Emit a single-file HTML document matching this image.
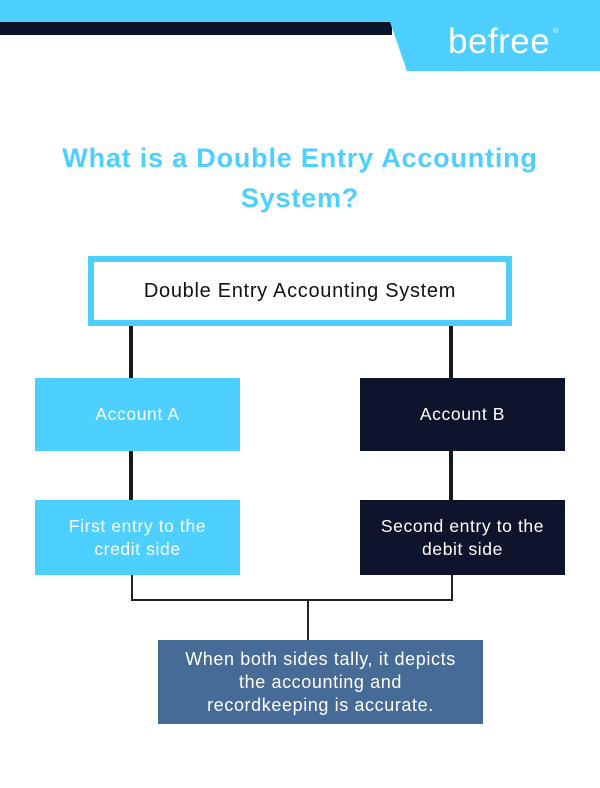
<!DOCTYPE html>
<html><head><meta charset="utf-8"><style>
body{margin:0;width:600px;height:788px;background:#fff;position:relative;overflow:hidden;font-family:"Liberation Sans",sans-serif}
.a{position:absolute}
.box{position:absolute;display:flex;align-items:center;justify-content:center;text-align:center;color:#fff;font-size:17.5px;line-height:23px;letter-spacing:0.6px}
</style></head><body>
<div class="a" style="left:0;top:0;width:600px;height:23px;background:#4dcfff"></div>
<div class="a" style="left:0;top:22px;width:392px;height:13px;background:#0b1329"></div>
<svg class="a" style="left:0;top:0" width="600" height="80"><polygon points="390,22 600,22 600,71 407,71" fill="#4dcfff"/></svg>
<div class="a" style="left:448px;top:22px;color:#fff;font-size:35px;letter-spacing:0.5px">befree</div>
<div class="a" style="left:553px;top:28px;color:#fff;font-size:7px">®</div>
<div class="a" style="left:0;top:138px;width:600px;text-align:center;color:#4dcfff;font-weight:bold;font-size:27px;letter-spacing:0.8px;line-height:40px">What is a Double Entry Accounting<br>System?</div>
<div class="box" style="left:88px;top:256px;width:412px;height:58px;border:6px solid #4dcfff;background:#fff;color:#111;font-size:20px;letter-spacing:0.7px">Double Entry Accounting System</div>
<div class="a" style="left:129px;top:326px;width:4px;height:52px;background:#151a1c"></div>
<div class="a" style="left:449px;top:326px;width:4px;height:52px;background:#151a1c"></div>
<div class="box" style="left:35px;top:378px;width:205px;height:73px;background:#4dcfff">Account A</div>
<div class="box" style="left:360px;top:378px;width:205px;height:73px;background:#0d142b">Account B</div>
<div class="a" style="left:129px;top:451px;width:4px;height:49px;background:#151a1c"></div>
<div class="a" style="left:449px;top:451px;width:4px;height:49px;background:#151a1c"></div>
<div class="box" style="left:35px;top:500px;width:205px;height:75px;background:#4dcfff">First entry to the<br>credit side</div>
<div class="box" style="left:360px;top:500px;width:205px;height:75px;background:#0d142b">Second entry to the<br>debit side</div>
<div class="a" style="left:131px;top:575px;width:2px;height:26px;background:#222"></div>
<div class="a" style="left:451px;top:575px;width:2px;height:26px;background:#222"></div>
<div class="a" style="left:131px;top:599px;width:322px;height:2px;background:#222"></div>
<div class="a" style="left:307px;top:599px;width:2px;height:41px;background:#222"></div>
<div class="box" style="left:158px;top:640px;width:325px;height:84px;background:#466b96;font-size:18px;letter-spacing:0.6px">When both sides tally, it depicts<br>the accounting and<br>recordkeeping is accurate.</div>
</body></html>
